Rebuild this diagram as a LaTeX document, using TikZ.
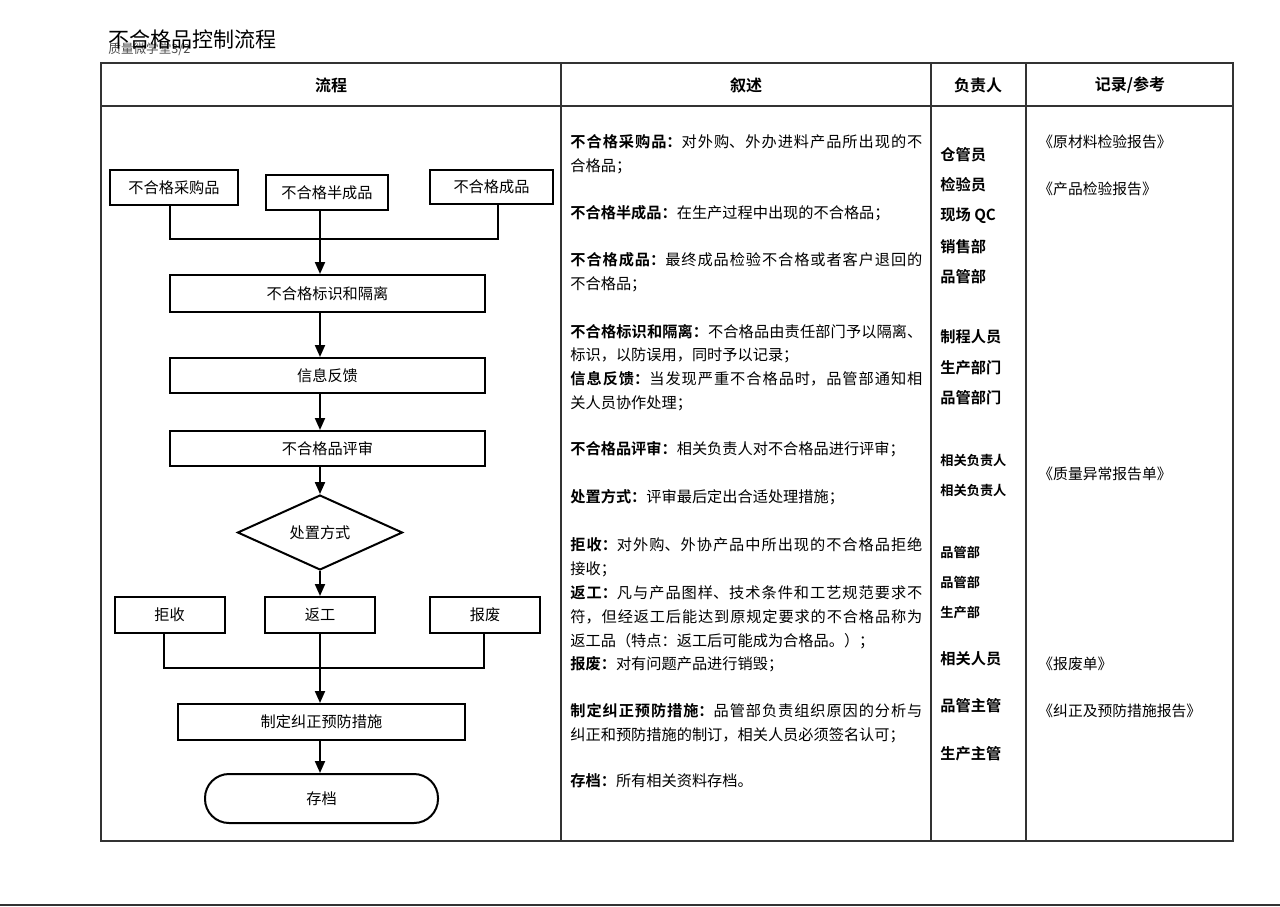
\documentclass[tikz,border=0pt]{standalone}
\usepackage{fontspec}
\setmainfont{Noto Sans CJK SC}[BoldFont={Noto Sans CJK SC Bold}]
\usetikzlibrary{arrows.meta,shapes.geometric,calc}
\newcommand\jl[1]{\parbox{176pt}{\XeTeXlinebreaklocale "zh"\XeTeXlinebreakskip=0pt plus 4pt\parfillskip=0pt\relax #1}}
\begin{document}
\begin{tikzpicture}[x=0.5pt,y=-0.5pt,
  tline/.style={draw=black!80, line width=0.7pt},
  fbox/.style={draw=black, line width=1pt, inner sep=0pt, font=\fontsize{7.6}{9}\selectfont},
  ln/.style={draw=black, line width=1pt},
  arr/.style={draw=black, line width=1pt, -{Triangle[width=5pt,length=6pt]}},
  hd/.style={font=\bfseries\fontsize{8}{9}\selectfont, inner sep=0pt},
  desc/.style={anchor=west, inner sep=0pt, font=\fontsize{7.6}{9}\selectfont},
  resp/.style={anchor=west, inner sep=0pt, font=\bfseries\fontsize{7.6}{9}\selectfont},
  resps/.style={anchor=west, inner sep=0pt, font=\bfseries\fontsize{6.6}{8}\selectfont},
  rec/.style={anchor=west, inner sep=0pt, font=\fontsize{7.4}{9}\selectfont}]
\useasboundingbox (0,0) rectangle (1280,906);
\fill[white] (0,0) rectangle (1280,906);
% title
\node[anchor=west, inner sep=0pt, text=black!70, font=\fontsize{6.3}{7}\selectfont] (sub) at (108,49) {质量微学堂3/2};
\node[anchor=west, inner sep=0pt, font=\fontsize{10.5}{12}\selectfont] (title) at (108,39) {不合格品控制流程};
% table
\draw[tline] (101,63) rectangle (1233,841);
\draw[tline] (101,106) -- (1233,106);
\draw[tline] (561,63) -- (561,841);
\draw[tline] (931,63) -- (931,841);
\draw[tline] (1026,63) -- (1026,841);
\draw[draw=black!80, line width=1pt] (0,904.5) -- (1280,904.5);
\node[hd] (h1) at (331,85) {流程};
\node[hd] (h2) at (746,85) {叙述};
\node[hd] (h3) at (978,85) {负责人};
\node[hd] (h4) at (1130,85) {记录/参考};
% flow chart
\node[fbox, minimum width=64pt, minimum height=17.5pt] (cg) at (174,187.5) {不合格采购品};
\node[fbox, minimum width=61pt, minimum height=17.5pt] (bc) at (327,192.5) {不合格半成品};
\node[fbox, minimum width=61.5pt, minimum height=17pt] (cp) at (491.5,187) {不合格成品};
\node[fbox, minimum width=157.5pt, minimum height=18.5pt] (bs) at (327.5,293.5) {不合格标识和隔离};
\node[fbox, minimum width=157.5pt, minimum height=17.5pt] (xx) at (327.5,375.5) {信息反馈};
\node[fbox, minimum width=157.5pt, minimum height=17.5pt] (ps) at (327.5,448.5) {不合格品评审};
\node[fbox, shape=diamond, minimum width=82.5pt, minimum height=27.5pt] (dm) at (320,532.5) {处置方式};
\node[fbox, minimum width=55pt, minimum height=18pt] (jr) at (169.5,615) {拒收};
\node[fbox, minimum width=55pt, minimum height=18pt] (fg) at (320,615) {返工};
\node[fbox, minimum width=55pt, minimum height=18pt] (bf) at (485,615) {报废};
\node[fbox, minimum width=143.5pt, minimum height=18pt] (zd) at (321.5,722) {制定纠正预防措施};
\node[fbox, minimum width=116.5pt, minimum height=24.5pt, rounded corners=12pt] (cd) at (321.5,798.5) {存档};
\coordinate (ax) at (320,0);
\coordinate (tl) at (170,239);
\coordinate (tr) at (498,239);
\coordinate (bl) at (164,668);
\coordinate (br) at (484,668);
\draw[ln] (cg.south -| tl) -- (tl) -- (tr) -- (cp.south -| tr);
\draw[arr] (bc.south -| ax) -- (bs.north -| ax);
\draw[arr] (bs.south -| ax) -- (xx.north -| ax);
\draw[arr] (xx.south -| ax) -- (ps.north -| ax);
\draw[arr] (ps.south -| ax) -- (dm.north);
\draw[arr] (dm.south) -- (fg.north);
\draw[ln] (jr.south -| bl) -- (bl) -- (br) -- (bf.south -| br);
\draw[ln] (fg.south) -- (fg.south |- bl);
\draw[arr] (fg.south |- bl) -- (zd.north -| ax);
\draw[arr] (zd.south -| ax) -- (cd.north -| ax);
% description
\node[desc] (d1) at (570,142) {\jl{\textbf{不合格采购品：}对外购、外办进料产品所出现的不}};
\node[desc] (d2) at (570,166) {合格品；};
\node[desc] (d3) at (570,213) {\textbf{不合格半成品：}在生产过程中出现的不合格品；};
\node[desc] (d4) at (570,260) {\jl{\textbf{不合格成品：}最终成品检验不合格或者客户退回的}};
\node[desc] (d5) at (570,284) {不合格品；};
\node[desc] (d6) at (570,332) {\jl{\textbf{不合格标识和隔离：}不合格品由责任部门予以隔离、}};
\node[desc] (d7) at (570,355) {标识，以防误用，同时予以记录；};
\node[desc] (d8) at (570,379) {\jl{\textbf{信息反馈：}当发现严重不合格品时，品管部通知相}};
\node[desc] (d9) at (570,403) {关人员协作处理；};
\node[desc] (d10) at (570,449) {\textbf{不合格品评审：}相关负责人对不合格品进行评审；};
\node[desc] (d11) at (570,497) {\textbf{处置方式：}评审最后定出合适处理措施；};
\node[desc] (d12) at (570,545) {\jl{\textbf{拒收：}对外购、外协产品中所出现的不合格品拒绝}};
\node[desc] (d13) at (570,569) {接收；};
\node[desc] (d14) at (570,593) {\jl{\textbf{返工：}凡与产品图样、技术条件和工艺规范要求不}};
\node[desc] (d15) at (570,617) {\jl{符，但经返工后能达到原规定要求的不合格品称为}};
\node[desc] (d16) at (570,641) {返工品（特点：返工后可能成为合格品。）；};
\node[desc] (d17) at (570,664) {\textbf{报废：}对有问题产品进行销毁；};
\node[desc] (d18) at (570,711) {\jl{\textbf{制定纠正预防措施：}品管部负责组织原因的分析与}};
\node[desc] (d19) at (570,735) {纠正和预防措施的制订，相关人员必须签名认可；};
\node[desc] (d20) at (570,781) {\textbf{存档：}所有相关资料存档。};
% responsible
\node[resp] (r1) at (940,155) {仓管员};
\node[resp] (r2) at (940,185) {检验员};
\node[resp] (r3) at (940,216) {现场 QC};
\node[resp] (r4) at (940,247) {销售部};
\node[resp] (r5) at (940,277) {品管部};
\node[resp] (r6) at (940,337) {制程人员};
\node[resp] (r7) at (940,368) {生产部门};
\node[resp] (r8) at (940,398) {品管部门};
\node[resps] (r9) at (940,461) {相关负责人};
\node[resps] (r10) at (940,491) {相关负责人};
\node[resps] (r11) at (940,552) {品管部};
\node[resps] (r12) at (940,582) {品管部};
\node[resps] (r13) at (940,612) {生产部};
\node[resp] (r14) at (940,659) {相关人员};
\node[resp] (r15) at (940,706) {品管主管};
\node[resp] (r16) at (940,754) {生产主管};
% records
\node[rec] (k1) at (1038,142) {《原材料检验报告》};
\node[rec] (k2) at (1038,189) {《产品检验报告》};
\node[rec] (k3) at (1038,474) {《质量异常报告单》};
\node[rec] (k4) at (1038,664) {《报废单》};
\node[rec] (k5) at (1038,711) {《纠正及预防措施报告》};
\end{tikzpicture}
\end{document}
